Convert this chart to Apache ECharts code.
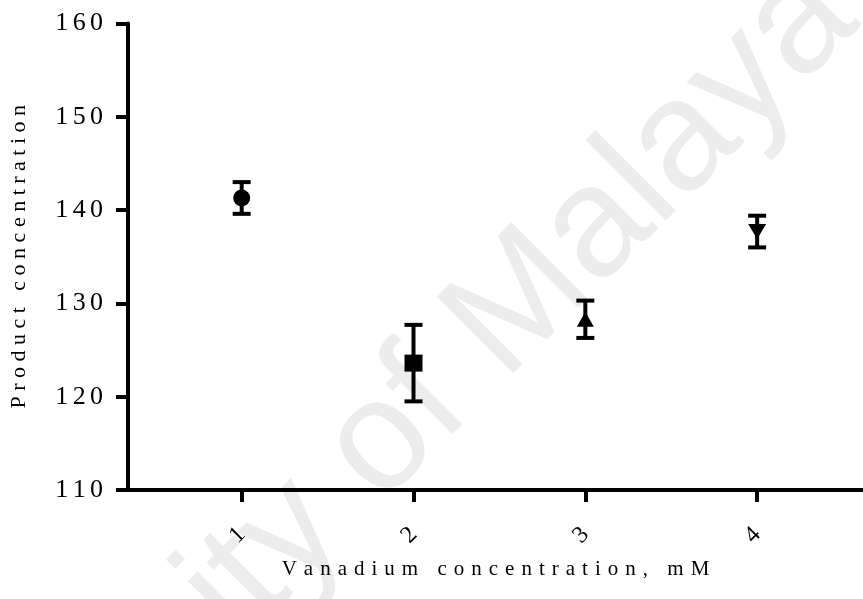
<!DOCTYPE html>
<html>
<head>
<meta charset="utf-8">
<script src="https://cdn.jsdelivr.net/npm/echarts@6/dist/echarts.min.js"></script>
<style>
  html, body { margin: 0; padding: 0; background: #fff; }
  #chart { width: 863px; height: 599px; }
</style>
</head>
<body>
<div id="chart"></div>
<script>
// Vanadium dose levels (mM) and measured product concentration (mean ± error)
const doses = [1, 2, 3, 4];
const means = [141.3, 123.6, 128.3, 137.7];
const errors = [1.7, 4.1, 2.0, 1.7];
const markerShapes = ['circle', 'rect', 'triangle', 'path://M0,0 L10,0 L5,9 Z'];
const markerSizes = [[17, 17], [18, 17], [17, 15], [18, 15]];
const yTickValues = [110, 120, 130, 140, 150, 160];

const xTitle = 'Vanadium concentration, mM';
const yTitle = 'Product concentration';
const watermark = 'University of Malaya';

// spread letters apart (tracked typography)
const spaced = (s, gap) => s.split('').join(gap);

const serif = '"Liberation Serif", "Times New Roman", serif';

const chart = echarts.init(document.getElementById('chart'), null, { renderer: 'canvas' });

const option = {
  backgroundColor: '#ffffff',
  animation: false,
  grid: { left: 126, right: 0, top: 23.5, bottom: 109, containLabel: false },
  graphic: [{
    type: 'text',
    z: -10,
    silent: true,
    x: -168,
    y: 993,
    rotation: Math.PI / 4,
    style: {
      text: watermark,
      fill: '#ececec',
      font: 'normal 157px "Liberation Sans", Arial, sans-serif',
      textAlign: 'left',
      verticalAlign: 'middle'
    }
  }],
  xAxis: {
    type: 'value',
    min: 0.3384,
    max: 4.616,
    z: 3,
    name: spaced(xTitle, '\u2004'),
    nameLocation: 'middle',
    nameGap: 69,
    nameTextStyle: { fontFamily: serif, fontSize: 21, color: '#000' },
    axisLine: { show: true, onZero: false, lineStyle: { color: '#000', width: 4 } },
    axisTick: { show: true, customValues: doses, length: 12, lineStyle: { color: '#000', width: 4 } },
    axisLabel: {
      customValues: doses,
      rotate: 45,
      margin: 41,
      fontFamily: serif,
      fontSize: 24,
      color: '#000'
    },
    splitLine: { show: false }
  },
  yAxis: {
    type: 'value',
    min: 110,
    max: 160,
    interval: 10,
    z: 3,
    name: spaced(yTitle, '\u2005'),
    nameLocation: 'middle',
    nameGap: 98,
    nameTextStyle: { fontFamily: serif, fontSize: 22, color: '#000' },
    axisLine: { show: true, onZero: false, lineStyle: { color: '#000', width: 4 } },
    axisTick: { show: true, length: 12, lineStyle: { color: '#000', width: 4 } },
    axisLabel: {
      margin: 25,
      fontFamily: serif,
      fontSize: 26,
      color: '#000',
      formatter: v => (yTickValues.includes(v) ? spaced(String(v), '\u2006') : '')
    },
    splitLine: { show: false }
  },
  series: [
    {
      // error bars with caps
      type: 'custom',
      z: 4,
      data: doses.map((d, i) => [d, means[i] - errors[i], means[i] + errors[i]]),
      renderItem: (params, api) => {
        const x = api.value(0);
        const lo = api.coord([x, api.value(1)]);
        const hi = api.coord([x, api.value(2)]);
        const half = 9;
        const style = { stroke: '#000', lineWidth: 4, lineCap: 'butt' };
        return {
          type: 'group',
          children: [
            { type: 'line', shape: { x1: lo[0], y1: lo[1], x2: hi[0], y2: hi[1] }, style },
            { type: 'line', shape: { x1: hi[0] - half, y1: hi[1], x2: hi[0] + half, y2: hi[1] }, style },
            { type: 'line', shape: { x1: lo[0] - half, y1: lo[1], x2: lo[0] + half, y2: lo[1] }, style }
          ]
        };
      }
    },
    {
      type: 'scatter',
      z: 5,
      data: doses.map((d, i) => ({
        value: [d, means[i]],
        symbol: markerShapes[i],
        symbolSize: markerSizes[i]
      })),
      itemStyle: { color: '#000', opacity: 1 }
    }
  ]
};

chart.setOption(option);
</script>
</body>
</html>
